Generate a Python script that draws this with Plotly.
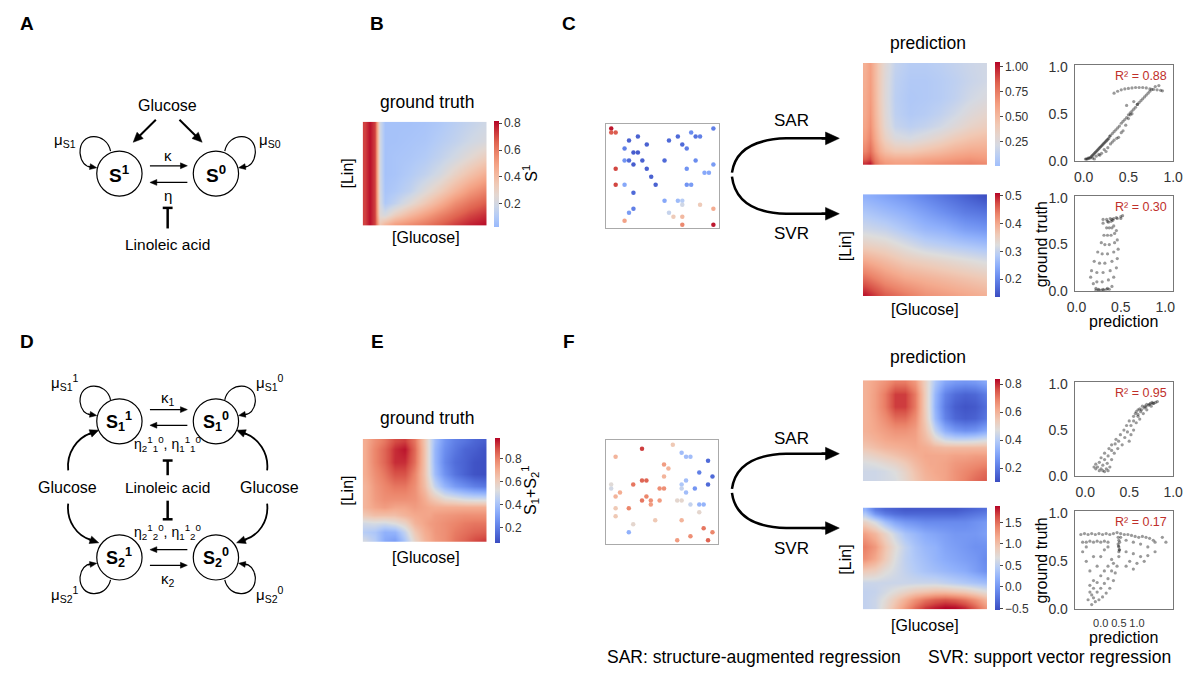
import math
import plotly.graph_objects as go

# page is 1202x690; default body margin is 8px, so the figure itself is 1186x674
PW, PH = 1202, 690
OX, OY = 8, 8
FW, FH = PW - 2 * OX, PH - 2 * OY
FONT = "Liberation Sans, Arial, Helvetica, sans-serif"

# ------------------------------------------------------------------ data
# heatmap grids: glucose index (columns) and Lin index (rows, top -> bottom)
B_glc = [0, 1, 2, 3, 4, 6, 9, 12, 15, 18, 21, 24]
B_lin = [0, 4, 8, 12, 16, 19, 22, 24]
B_S1 = [
    [0.72, 0.80, 0.72, 0.20, 0.07, 0.07, 0.07, 0.08, 0.10, 0.13, 0.16, 0.19],
    [0.72, 0.80, 0.72, 0.20, 0.07, 0.07, 0.08, 0.09, 0.12, 0.15, 0.19, 0.22],
    [0.72, 0.80, 0.72, 0.20, 0.07, 0.08, 0.09, 0.11, 0.15, 0.20, 0.26, 0.32],
    [0.72, 0.80, 0.72, 0.20, 0.07, 0.08, 0.11, 0.15, 0.21, 0.30, 0.38, 0.45],
    [0.72, 0.80, 0.72, 0.21, 0.08, 0.10, 0.15, 0.24, 0.33, 0.43, 0.52, 0.58],
    [0.72, 0.80, 0.72, 0.22, 0.10, 0.15, 0.25, 0.35, 0.45, 0.55, 0.62, 0.67],
    [0.72, 0.80, 0.72, 0.25, 0.22, 0.32, 0.42, 0.50, 0.58, 0.65, 0.71, 0.75],
    [0.72, 0.80, 0.72, 0.35, 0.42, 0.50, 0.55, 0.60, 0.66, 0.72, 0.77, 0.80],
]

CSAR_glc = [0, 1, 2, 3, 4, 6, 9, 12, 15, 18, 21, 24]
CSAR_lin = [0, 4, 8, 12, 15, 18, 21, 23, 24]
CSAR_pred = [
    [0.55, 0.62, 0.50, 0.38, 0.28, 0.15, 0.10, 0.10, 0.12, 0.15, 0.18, 0.20],
    [0.56, 0.63, 0.50, 0.38, 0.27, 0.13, 0.08, 0.08, 0.10, 0.13, 0.17, 0.20],
    [0.57, 0.64, 0.51, 0.38, 0.27, 0.12, 0.07, 0.08, 0.10, 0.14, 0.20, 0.24],
    [0.58, 0.66, 0.52, 0.40, 0.28, 0.13, 0.08, 0.10, 0.14, 0.20, 0.27, 0.32],
    [0.60, 0.68, 0.54, 0.42, 0.30, 0.16, 0.12, 0.15, 0.20, 0.27, 0.34, 0.38],
    [0.64, 0.72, 0.58, 0.46, 0.36, 0.25, 0.22, 0.27, 0.33, 0.40, 0.45, 0.48],
    [0.72, 0.80, 0.66, 0.55, 0.48, 0.42, 0.42, 0.46, 0.50, 0.55, 0.58, 0.58],
    [0.85, 0.90, 0.75, 0.65, 0.60, 0.57, 0.57, 0.60, 0.62, 0.65, 0.67, 0.65],
    [0.95, 1.00, 0.80, 0.70, 0.65, 0.62, 0.62, 0.65, 0.68, 0.70, 0.72, 0.70],
]

CSVR_glc = [0, 4, 8, 12, 16, 20, 24]
CSVR_lin = [0, 4, 8, 12, 16, 20, 24]
CSVR_pred = [
    [0.25, 0.235, 0.22, 0.20, 0.18, 0.16, 0.14],
    [0.28, 0.265, 0.25, 0.23, 0.21, 0.19, 0.18],
    [0.31, 0.30, 0.28, 0.26, 0.25, 0.23, 0.22],
    [0.35, 0.34, 0.32, 0.30, 0.29, 0.28, 0.27],
    [0.40, 0.38, 0.36, 0.35, 0.34, 0.33, 0.32],
    [0.45, 0.42, 0.40, 0.39, 0.38, 0.37, 0.36],
    [0.50, 0.46, 0.44, 0.42, 0.41, 0.40, 0.39],
]

E_glc = [0, 2, 4, 6, 8, 10, 12, 13, 14, 16, 18, 20, 22, 24]
E_lin = [0, 2, 5, 8, 11, 14, 16, 18, 20, 22, 24]
E_S = [
    [0.70, 0.77, 0.82, 0.89, 0.91, 0.82, 0.62, 0.50, 0.39, 0.27, 0.21, 0.18, 0.14, 0.12],
    [0.70, 0.79, 0.85, 0.93, 0.96, 0.84, 0.63, 0.50, 0.37, 0.25, 0.19, 0.14, 0.12, 0.09],
    [0.70, 0.79, 0.85, 0.93, 0.93, 0.83, 0.63, 0.50, 0.37, 0.23, 0.16, 0.13, 0.09, 0.08],
    [0.70, 0.77, 0.82, 0.88, 0.88, 0.79, 0.63, 0.51, 0.39, 0.26, 0.18, 0.13, 0.09, 0.08],
    [0.68, 0.75, 0.79, 0.82, 0.82, 0.77, 0.65, 0.56, 0.47, 0.36, 0.29, 0.25, 0.21, 0.19],
    [0.68, 0.74, 0.77, 0.77, 0.77, 0.76, 0.70, 0.65, 0.62, 0.56, 0.54, 0.51, 0.50, 0.50],
    [0.68, 0.72, 0.74, 0.72, 0.72, 0.74, 0.72, 0.71, 0.70, 0.70, 0.70, 0.70, 0.70, 0.70],
    [0.62, 0.65, 0.65, 0.65, 0.68, 0.71, 0.72, 0.72, 0.74, 0.75, 0.76, 0.77, 0.77, 0.77],
    [0.50, 0.51, 0.50, 0.53, 0.58, 0.68, 0.72, 0.74, 0.75, 0.77, 0.79, 0.81, 0.82, 0.82],
    [0.44, 0.42, 0.35, 0.36, 0.47, 0.62, 0.70, 0.72, 0.75, 0.77, 0.81, 0.83, 0.85, 0.86],
    [0.50, 0.44, 0.33, 0.30, 0.42, 0.58, 0.68, 0.71, 0.74, 0.77, 0.82, 0.85, 0.89, 0.91],
]

FSAR_glc = [0, 2, 4, 6, 8, 10, 12, 13, 14, 16, 18, 20, 22, 24]
FSAR_lin = [0, 3, 6, 9, 12, 14, 16, 18, 20, 22, 24]
FSAR_pred = [
    [0.60, 0.63, 0.66, 0.70, 0.70, 0.65, 0.52, 0.45, 0.38, 0.30, 0.27, 0.26, 0.27, 0.30],
    [0.60, 0.64, 0.70, 0.78, 0.78, 0.70, 0.53, 0.44, 0.34, 0.22, 0.17, 0.15, 0.16, 0.20],
    [0.60, 0.64, 0.70, 0.78, 0.78, 0.70, 0.53, 0.44, 0.33, 0.20, 0.14, 0.12, 0.13, 0.17],
    [0.60, 0.63, 0.67, 0.72, 0.72, 0.67, 0.54, 0.45, 0.35, 0.22, 0.16, 0.14, 0.15, 0.19],
    [0.60, 0.62, 0.64, 0.66, 0.66, 0.64, 0.56, 0.50, 0.42, 0.32, 0.27, 0.25, 0.26, 0.30],
    [0.58, 0.60, 0.62, 0.63, 0.63, 0.63, 0.58, 0.55, 0.50, 0.44, 0.42, 0.42, 0.43, 0.45],
    [0.55, 0.57, 0.59, 0.60, 0.61, 0.62, 0.61, 0.60, 0.59, 0.58, 0.58, 0.58, 0.58, 0.58],
    [0.50, 0.52, 0.54, 0.56, 0.58, 0.60, 0.62, 0.62, 0.62, 0.62, 0.63, 0.63, 0.64, 0.64],
    [0.46, 0.47, 0.49, 0.51, 0.54, 0.58, 0.61, 0.62, 0.62, 0.63, 0.65, 0.66, 0.67, 0.68],
    [0.44, 0.44, 0.45, 0.47, 0.51, 0.56, 0.60, 0.61, 0.62, 0.63, 0.66, 0.68, 0.70, 0.72],
    [0.44, 0.44, 0.45, 0.46, 0.50, 0.55, 0.59, 0.60, 0.61, 0.63, 0.66, 0.69, 0.72, 0.74],
]

FSVR_glc = [0, 2, 4, 6, 8, 10, 12, 14, 16, 18, 20, 22, 24]
FSVR_lin = [0, 1, 3, 6, 9, 12, 15, 18, 20, 22, 24]
FSVR_pred = [
    [0.20, -0.20, -0.35, -0.40, -0.45, -0.45, -0.45, -0.45, -0.45, -0.45, -0.40, -0.35, -0.30],
    [0.40, 0.00, -0.20, -0.30, -0.35, -0.35, -0.35, -0.35, -0.35, -0.35, -0.30, -0.25, -0.20],
    [0.80, 0.60, 0.30, 0.10, 0.00, -0.05, -0.10, -0.10, -0.10, -0.10, -0.10, -0.05, 0.00],
    [1.20, 1.05, 0.80, 0.55, 0.35, 0.25, 0.15, 0.10, 0.05, 0.00, 0.00, 0.00, 0.05],
    [1.40, 1.25, 0.95, 0.70, 0.50, 0.35, 0.25, 0.20, 0.10, 0.05, 0.00, -0.05, -0.05],
    [1.30, 1.15, 0.90, 0.65, 0.48, 0.38, 0.30, 0.22, 0.15, 0.10, 0.05, 0.00, -0.10],
    [0.90, 0.85, 0.70, 0.60, 0.50, 0.42, 0.35, 0.30, 0.25, 0.20, 0.15, 0.05, -0.05],
    [0.55, 0.55, 0.55, 0.55, 0.55, 0.55, 0.55, 0.55, 0.50, 0.45, 0.40, 0.35, 0.30],
    [0.50, 0.52, 0.60, 0.70, 0.80, 0.90, 0.95, 1.00, 1.00, 0.95, 0.90, 0.80, 0.70],
    [0.50, 0.55, 0.70, 0.90, 1.10, 1.30, 1.45, 1.55, 1.60, 1.55, 1.45, 1.30, 1.10],
    [0.50, 0.55, 0.75, 1.00, 1.25, 1.50, 1.70, 1.80, 1.87, 1.85, 1.75, 1.55, 1.30],
]

# training samples: (glucose index, Lin index, value)
C_samples = [
    (1, 1, 0.80), (1, 2, 0.72), (2, 2, 0.72), (5, 4, 0.08), (7, 3, 0.08), (9, 5, 0.08),
    (4, 6, 0.15), (6, 7, 0.07), (7, 7, 0.07), (4, 9, 0.20), (5, 9, 0.10), (6, 10, 0.07),
    (8, 9, 0.08), (2, 11, 0.75), (9, 11, 0.08), (10, 13, 0.08), (11, 15, 0.08), (2, 15, 0.75),
    (4, 15, 0.25), (6, 17, 0.10), (6, 21, 0.15), (5, 22, 0.22), (4, 24, 0.60), (14, 4, 0.10),
    (16, 3, 0.10), (17, 5, 0.10), (18, 6, 0.15), (19, 2, 0.18), (20, 3, 0.12), (21, 3, 0.15),
    (24, 1, 0.15), (13, 9, 0.10), (20, 9, 0.18), (18, 11, 0.20), (24, 10, 0.22), (22, 12, 0.25),
    (23, 12, 0.25), (18, 15, 0.20), (19, 15, 0.22), (13, 19, 0.25), (16, 19, 0.30), (17, 19, 0.35),
    (17, 20, 0.40), (14, 22, 0.38), (15, 23, 0.50), (17, 23, 0.55), (21, 20, 0.50), (24, 21, 0.58),
    (17, 25, 0.65), (24, 25, 0.80),
]
F_samples = [
    (15, 1, 0.62), (8, 2, 0.91), (2, 4, 0.68), (17, 3, 0.39), (18, 4, 0.39), (19, 4, 0.39),
    (23, 5, 0.15), (13, 6, 0.74), (14, 7, 0.68), (21, 8, 0.21), (24, 9, 0.15), (13, 9, 0.68),
    (8, 10, 0.85), (9, 10, 0.85), (18, 10, 0.39), (6, 11, 0.82), (17, 11, 0.42), (23, 11, 0.15),
    (1, 11, 0.54), (1, 12, 0.50), (12, 12, 0.77), (13, 12, 0.77), (17, 12, 0.47), (20, 12, 0.27),
    (3, 13, 0.70), (18, 13, 0.39), (2, 14, 0.68), (9, 14, 0.79), (8, 15, 0.82), (10, 15, 0.77),
    (12, 15, 0.74), (16, 15, 0.56), (17, 15, 0.56), (10, 16, 0.74), (19, 16, 0.47), (21, 16, 0.36),
    (22, 16, 0.36), (2, 17, 0.62), (5, 17, 0.79), (21, 18, 0.56), (2, 19, 0.62), (11, 20, 0.62),
    (17, 20, 0.68), (6, 21, 0.56), (22, 22, 0.82), (5, 23, 0.35), (24, 23, 0.79), (19, 24, 0.77),
    (16, 25, 0.74), (23, 25, 0.85),
]

# prediction vs ground truth: (prediction, ground truth)
C_SAR_pts = [
    (0.02, 0.02), (0.03, 0.02), (0.04, 0.02), (0.05, 0.03), (0.06, 0.03), (0.07, 0.03), (0.08, 0.04),
    (0.09, 0.05), (0.10, 0.06), (0.11, 0.07), (0.12, 0.08), (0.13, 0.09), (0.14, 0.10), (0.15, 0.11),
    (0.16, 0.12), (0.17, 0.13), (0.18, 0.14), (0.19, 0.15), (0.20, 0.16), (0.21, 0.17), (0.22, 0.18),
    (0.23, 0.19), (0.24, 0.20), (0.25, 0.21), (0.26, 0.22), (0.27, 0.23), (0.28, 0.24), (0.29, 0.26),
    (0.30, 0.27), (0.32, 0.29), (0.34, 0.31), (0.36, 0.33), (0.38, 0.35), (0.40, 0.37), (0.42, 0.40),
    (0.44, 0.42), (0.46, 0.44), (0.48, 0.46), (0.50, 0.49), (0.52, 0.51), (0.54, 0.53), (0.56, 0.55),
    (0.58, 0.57), (0.60, 0.60), (0.62, 0.62), (0.64, 0.64), (0.66, 0.66), (0.68, 0.68), (0.70, 0.70),
    (0.72, 0.72), (0.74, 0.74), (0.76, 0.76),
    (0.34, 0.72), (0.38, 0.74), (0.42, 0.755), (0.46, 0.765), (0.50, 0.77), (0.54, 0.775), (0.58, 0.78),
    (0.62, 0.78), (0.66, 0.78), (0.70, 0.775), (0.74, 0.765), (0.78, 0.76), (0.82, 0.755), (0.86, 0.75),
    (0.88, 0.745), (0.80, 0.79), (0.84, 0.80),
    (0.10, 0.03), (0.14, 0.05), (0.17, 0.07), (0.20, 0.08), (0.23, 0.12), (0.27, 0.14), (0.30, 0.18),
    (0.34, 0.22), (0.37, 0.24), (0.39, 0.25), (0.42, 0.30), (0.44, 0.32), (0.47, 0.38), (0.50, 0.45),
    (0.52, 0.49), (0.54, 0.50), (0.48, 0.59), (0.56, 0.63), (0.60, 0.60), (0.12, 0.02), (0.18, 0.06),
    (0.25, 0.10), (0.32, 0.20),
]
C_SVR_pts = [
    (0.22, 0.03), (0.19, 0.08), (0.16, 0.15), (0.17, 0.22), (0.20, 0.32), (0.24, 0.42), (0.28, 0.52),
    (0.31, 0.60), (0.34, 0.68), (0.36, 0.74),
    (0.25, 0.02), (0.23, 0.10), (0.23, 0.20), (0.26, 0.30), (0.29, 0.40), (0.32, 0.50), (0.35, 0.60),
    (0.37, 0.68), (0.39, 0.75),
    (0.30, 0.02), (0.29, 0.10), (0.30, 0.20), (0.32, 0.30), (0.35, 0.40), (0.37, 0.50), (0.39, 0.60),
    (0.40, 0.68), (0.41, 0.76),
    (0.35, 0.03), (0.36, 0.12), (0.38, 0.22), (0.40, 0.32), (0.42, 0.42), (0.43, 0.52), (0.43, 0.62),
    (0.42, 0.70),
    (0.40, 0.05), (0.42, 0.15), (0.45, 0.25), (0.46, 0.35), (0.47, 0.45), (0.46, 0.55), (0.45, 0.65),
    (0.22, 0.01), (0.25, 0.01), (0.28, 0.01), (0.31, 0.01), (0.34, 0.02), (0.37, 0.02),
    (0.30, 0.77), (0.34, 0.77), (0.38, 0.78), (0.42, 0.78), (0.46, 0.78), (0.50, 0.78),
    (0.30, 0.73), (0.35, 0.75), (0.40, 0.77), (0.45, 0.79), (0.50, 0.80), (0.52, 0.81),
]
F_SAR_pts = [
    (0.10, 0.10), (0.12, 0.08), (0.14, 0.10), (0.12, 0.13), (0.16, 0.06), (0.18, 0.08), (0.20, 0.06),
    (0.22, 0.05), (0.16, 0.15), (0.20, 0.12), (0.24, 0.08), (0.26, 0.06), (0.18, 0.20), (0.22, 0.18),
    (0.25, 0.14), (0.28, 0.10), (0.22, 0.25), (0.26, 0.22), (0.30, 0.18), (0.27, 0.30), (0.30, 0.28),
    (0.33, 0.25), (0.30, 0.34), (0.34, 0.35), (0.37, 0.30), (0.35, 0.40), (0.38, 0.38), (0.42, 0.34),
    (0.40, 0.45), (0.45, 0.42), (0.50, 0.38), (0.44, 0.50), (0.48, 0.48), (0.52, 0.45), (0.47, 0.55),
    (0.52, 0.55), (0.55, 0.50), (0.50, 0.60), (0.55, 0.60), (0.58, 0.58), (0.55, 0.65), (0.60, 0.65),
    (0.62, 0.62), (0.58, 0.70), (0.63, 0.70), (0.66, 0.68), (0.62, 0.73), (0.67, 0.74), (0.70, 0.72),
    (0.68, 0.76), (0.72, 0.77), (0.75, 0.76), (0.74, 0.79), (0.78, 0.79), (0.80, 0.80), (0.82, 0.81),
    (0.57, 0.68), (0.60, 0.72), (0.65, 0.76), (0.70, 0.78), (0.76, 0.80), (0.64, 0.72), (0.69, 0.75),
    (0.73, 0.78), (0.77, 0.79), (0.60, 0.67),
]
F_SVR_pts = [
    (-0.55, 0.78), (-0.45, 0.79), (-0.35, 0.78), (-0.25, 0.79), (-0.15, 0.78), (-0.05, 0.79), (0.05, 0.78),
    (0.15, 0.79), (0.25, 0.78), (0.35, 0.79), (0.45, 0.80), (0.55, 0.79), (0.65, 0.78), (0.75, 0.78),
    (0.85, 0.77), (0.95, 0.76), (1.05, 0.75), (1.15, 0.76), (1.25, 0.75), (1.35, 0.74), (1.45, 0.72),
    (-0.50, 0.70), (-0.40, 0.70), (-0.30, 0.71), (-0.20, 0.70), (-0.10, 0.71), (0.00, 0.70), (0.10, 0.71),
    (0.20, 0.70),
    (0.50, 0.55), (0.50, 0.60), (0.52, 0.62), (0.50, 0.65), (0.48, 0.68), (0.52, 0.70), (0.50, 0.72),
    (0.48, 0.75), (0.55, 0.75), (0.51, 0.62), (0.49, 0.66),
    (0.70, 0.72), (0.90, 0.70), (1.10, 0.68), (1.30, 0.65), (1.50, 0.70), (1.70, 0.75), (1.80, 0.70),
    (0.70, 0.60), (0.90, 0.58), (1.10, 0.55), (1.30, 0.56), (1.50, 0.60), (0.80, 0.50), (1.00, 0.48),
    (1.20, 0.50), (0.70, 0.45), (0.90, 0.42),
    (-0.50, 0.60), (-0.40, 0.50), (-0.30, 0.40), (-0.40, 0.65), (-0.20, 0.55), (-0.30, 0.25), (-0.20, 0.30),
    (-0.10, 0.45), (0.00, 0.55), (0.10, 0.62), (0.20, 0.65), (-0.35, 0.10), (-0.25, 0.15),
    (-0.25, 0.05), (-0.15, 0.08), (-0.05, 0.10), (0.05, 0.13), (0.15, 0.17), (0.25, 0.22), (0.35, 0.30),
    (0.40, 0.38), (0.45, 0.45), (-0.20, 0.12), (-0.10, 0.18), (0.00, 0.22), (0.10, 0.27), (0.20, 0.32),
    (0.30, 0.40), (0.35, 0.48), (-0.30, 0.18), (-0.20, 0.22), (-0.10, 0.28), (0.00, 0.35), (0.10, 0.40),
    (0.20, 0.45), (0.30, 0.52),
]
R2_labels = ["R² = 0.88", "R² = 0.30", "R² = 0.95", "R² = 0.17"]

# ------------------------------------------------------------------ helpers
def X(px):
    return (px - OX) / FW


def Y(py):
    return 1 - (py - OY) / FH


CW = [(0.0, (59, 76, 192)), (0.125, (88, 118, 226)), (0.25, (123, 159, 249)),
      (0.375, (170, 199, 253)), (0.5, (221, 221, 221)), (0.625, (244, 197, 173)),
      (0.75, (244, 154, 123)), (0.875, (222, 96, 77)), (1.0, (180, 4, 38))]


def cw(f):
    for (a, ca), (b, cb) in zip(CW[:-1], CW[1:]):
        if f <= b:
            t = (f - a) / (b - a)
            c = [round(ca[i] + t * (cb[i] - ca[i])) for i in range(3)]
            return f"rgb({c[0]},{c[1]},{c[2]})"
    return "rgb(180,4,38)"


def cscale(f0, f1):
    return [[k / 10, cw(f0 + k / 10 * (f1 - f0))] for k in range(11)]


shapes = []
annots = []


def P(s):
    toks = s.split()
    out, i = [], 0
    while i < len(toks):
        t = toks[i]
        if t[0].isalpha():
            out.append(t)
            i += 1
        else:
            out.append(f"{X(float(t)):.5f},{Y(float(toks[i + 1])):.5f}")
            i += 2
    return " ".join(out)


def path(s, w=1.2, fill=None):
    d = dict(type="path", path=P(s), xref="paper", yref="paper",
             line=dict(color="black", width=w))
    if fill:
        d["fillcolor"] = fill
    shapes.append(d)


def line(x0, y0, x1, y1, w=1.2):
    shapes.append(dict(type="line", xref="paper", yref="paper", x0=X(x0), y0=Y(y0),
                       x1=X(x1), y1=Y(y1), line=dict(color="black", width=w)))


def circle(cx, cy, r):
    shapes.append(dict(type="circle", xref="paper", yref="paper", x0=X(cx - r), x1=X(cx + r),
                       y0=Y(cy + r), y1=Y(cy - r), line=dict(color="black", width=1.2)))


def arrow(hx, hy, tx, ty, w=1.2, hl=7.0, hw=6.0):
    """straight shaft from tail to head plus a filled triangular head (pixel units)"""
    dx, dy = hx - tx, hy - ty
    L = math.hypot(dx, dy)
    ux, uy = dx / L, dy / L
    bx, by = hx - ux * hl, hy - uy * hl
    if L > hl:
        line(tx, ty, bx + ux * 1.0, by + uy * 1.0, w)
    px, py = -uy * hw / 2, ux * hw / 2
    path(f"M {hx} {hy} L {bx + px} {by + py} L {bx - px} {by - py} Z", 0.5, "black")


def text(x, y, s, size=15, color="black", angle=0, xanchor="center"):
    annots.append(dict(x=X(x), y=Y(y), xref="paper", yref="paper", text=s, showarrow=False,
                       font=dict(size=size, color=color, family=FONT), textangle=angle,
                       xanchor=xanchor, yanchor="middle"))


# ------------------------------------------------------------------ figure
fig = go.Figure()
layout = {}

boxes = {
    1: (360, 486, 118, 224),   # B heatmap
    2: (360, 486, 442, 547),   # E heatmap
    3: (607, 722, 120, 227),   # C samples
    4: (607, 721, 443, 549),   # F samples
    5: (868, 994, 58, 162),    # C SAR
    6: (868, 994, 192, 296),   # C SVR
    7: (868, 994, 382, 485),   # F SAR
    8: (868, 994, 512, 616),   # F SVR
    9: (1083, 1183, 60, 158),  # C SAR scatter
    10: (1083, 1183, 194, 291),
    11: (1083, 1183, 384, 480),
    12: (1083, 1183, 516, 616),
}


def ax_names(n):
    return ("x" if n == 1 else f"x{n}"), ("y" if n == 1 else f"y{n}")


def lay_names(n):
    return ("xaxis" if n == 1 else f"xaxis{n}"), ("yaxis" if n == 1 else f"yaxis{n}")


hidden = dict(showticklabels=False, showgrid=False, zeroline=False, ticks="", showline=False)
for n, (x0, x1, y0, y1) in boxes.items():
    xa, ya = ax_names(n)
    lx, ly = lay_names(n)
    layout[lx] = dict(domain=[X(x0), X(x1)], anchor=ya, **hidden)
    layout[ly] = dict(domain=[Y(y1), Y(y0)], anchor=xa, **hidden)
    if n <= 8 and n not in (3, 4):
        layout[lx]["range"] = [-0.5, 24.5]
        layout[ly]["range"] = [24.5, -0.5]


def cbar(xpx, y0, y1, dtick, fmt):
    return dict(x=X(xpx), xanchor="left", xpad=0, ypad=0, y=Y((y0 + y1) / 2), yanchor="middle",
                len=y1 - y0, lenmode="pixels", thickness=5, thicknessmode="pixels",
                outlinewidth=0, ticks="outside", ticklen=3, tickwidth=1, tickcolor="#444",
                tickfont=dict(size=12, color="#333", family=FONT), dtick=dtick, tick0=0,
                tickformat=fmt)


heat_specs = [
    (1, B_glc, B_lin, B_S1, 0.03, 0.82, 0.33, 1.0, cbar(493, 118, 224, 0.2, ".1f")),
    (2, E_glc, E_lin, E_S, 0.07, 0.98, 0.0, 1.0, cbar(494, 442, 547, 0.2, ".1f")),
    (5, CSAR_glc, CSAR_lin, CSAR_pred, 0.01, 1.05, 0.35, 1.0, cbar(1002, 58, 162, 0.25, ".2f")),
    (6, CSVR_glc, CSVR_lin, CSVR_pred, 0.135, 0.51, 0.0, 1.0, cbar(1002, 192, 296, 0.1, ".1f")),
    (7, FSAR_glc, FSAR_lin, FSAR_pred, 0.10, 0.836, 0.0, 1.0, cbar(1002, 382, 485, 0.2, ".1f")),
    (8, FSVR_glc, FSVR_lin, FSVR_pred, -0.55, 1.87, 0.0, 1.0, cbar(1002, 512, 616, 0.5, ".1f")),
]
for n, gx, gy, z, zmin, zmax, f0, f1, cb in heat_specs:
    xa, ya = ax_names(n)
    fig.add_trace(go.Heatmap(x=gx, y=gy, z=z, zmin=zmin, zmax=zmax, colorscale=cscale(f0, f1),
                             zsmooth="best", colorbar=cb, xaxis=xa, yaxis=ya, hoverinfo="skip"))

# training sample scatters
for n, samples, zmin, zmax, f0 in [(3, C_samples, 0.03, 0.82, 0.0), (4, F_samples, 0.07, 0.98, 0.0)]:
    xa, ya = ax_names(n)
    lx, ly = lay_names(n)
    fig.add_trace(go.Scatter(x=[s[0] for s in samples], y=[s[1] for s in samples], mode="markers",
                             marker=dict(size=4.5, color=[s[2] for s in samples], cmin=zmin,
                                         cmax=zmax, colorscale=cscale(f0, 1.0), showscale=False),
                             xaxis=xa, yaxis=ya, hoverinfo="skip"))
    layout[lx].update(range=[-0.2, 25.3], showline=True, mirror=True, linecolor="#aaaaaa",
                      linewidth=1)
    layout[ly].update(range=[25.9, -0.2], showline=True, mirror=True, linecolor="#aaaaaa",
                      linewidth=1)

# prediction vs ground truth
sc_specs = [
    (9, C_SAR_pts, [-0.1, 1.0], 14),
    (10, C_SVR_pts, [-0.02, 1.09], 14),
    (11, F_SAR_pts, [-0.12, 1.0], 14),
    (12, F_SVR_pts, [-0.72, 2.0], 11),
]
tickstyle = dict(showticklabels=True, tickvals=[0, 0.5, 1.0], ticktext=["0.0", "0.5", "1.0"],
                 ticks="outside", ticklen=3, tickcolor="rgba(0,0,0,0)", tickangle=0,
                 showline=True, mirror=True, linecolor="#777", linewidth=1)
for (n, pts, xr, xfs), lab in zip(sc_specs, R2_labels):
    xa, ya = ax_names(n)
    lx, ly = lay_names(n)
    fig.add_trace(go.Scatter(x=[p[0] for p in pts], y=[p[1] for p in pts], mode="markers",
                             marker=dict(size=3.2, color="rgba(15,15,15,0.42)"),
                             xaxis=xa, yaxis=ya, hoverinfo="skip"))
    layout[lx].update(range=xr, tickfont=dict(size=xfs, color="#333", family=FONT), **tickstyle)
    layout[ly].update(range=[0, 1.02], tickfont=dict(size=14, color="#333", family=FONT),
                      **tickstyle)
    x0, x1, y0, y1 = boxes[n]
    text(x1 - 4, y0 + 11, lab, size=12.5, color="#c0302b", xanchor="right")

# ------------------------------------------------------------------ texts
for lbl, x, y in [("A", 19, 18), ("B", 375, 18), ("C", 570, 18),
                  ("D", 19, 342), ("E", 375, 342), ("F", 570, 342)]:
    text(x, y, f"<b>{lbl}</b>", size=19)

text(425, 98, "ground truth", 17.5)
text(425, 421, "ground truth", 17.5)
text(934, 38, "prediction", 17.5)
text(934, 358, "prediction", 17.5)
text(424, 236, "[Glucose]", 16)
text(424, 563, "[Glucose]", 16)
text(931, 310, "[Glucose]", 16)
text(931, 632, "[Glucose]", 16)
text(345, 171, "[Lin]", 16, angle=-90)
text(345, 495, "[Lin]", 16, angle=-90)
text(850, 245, "[Lin]", 16, angle=-90)
text(850, 565, "[Lin]", 16, angle=-90)
text(530, 171, "S<sup>1</sup>", 16, angle=-90)
text(530, 495, "S<sub>1</sub>+S<sub>2</sub><sup>1</sup>", 16, angle=-90)
for y in (243, 566):
    text(1049, y, "ground truth", 16, angle=-90)
for y in (322, 645):
    text(1133, y, "prediction", 16)
text(795, 117, "SAR", 17)
text(795, 232, "SVR", 17)
text(795, 441, "SAR", 17)
text(795, 554, "SVR", 17)
text(757, 665, "SAR: structure-augmented regression", 17.5)
text(1057, 665, "SVR: support vector regression", 17.5)

# SAR / SVR branching arrows
for yf, yu, yl in [(172, 135, 212), (495, 457, 533)]:
    path(f"M 735 {yf - 2} C 738 {yu + 14} 755 {yu + 1} 790 {yu} L 832 {yu}", 2.5)
    path(f"M 735 {yf + 2} C 738 {yl - 14} 755 {yl - 1} 790 {yl} L 832 {yl}", 2.5)
    arrow(844, yu, 826, yu, 2.5, 14, 13)
    arrow(844, yl, 826, yl, 2.5, 14, 13)

# ------------------------------------------------------------------ diagram A
circle(113, 171, 23)
circle(211, 171, 23)
text(113, 171, "<b>S<sup>1</sup></b>", 19)
text(211, 171, "<b>S<sup>0</sup></b>", 19)
text(162, 101, "Glucose", 16)
text(162, 152, "κ", 15)
text(162, 193, "η", 15)
text(162, 243, "Linoleic acid", 15.5)
text(58, 137, "μ<sub>S1</sub>", 15)
text(266, 137, "μ<sub>S0</sub>", 15)
arrow(182, 163, 144, 163)
arrow(144, 180, 182, 180)
arrow(127, 139, 150, 116, 2, 10, 9)
arrow(197, 139, 174, 116, 2, 10, 9)
line(162, 206, 162, 227, 2.5)
line(157, 206, 167, 206, 2.5)
path("M 104 148 C 100 128 72 128 73 150 C 74 160 79 164 85 165")
arrow(90, 165, 81, 163.5, 1.2, 7, 6)
path("M 220 148 C 224 128 252 128 251 150 C 250 160 245 164 239 165")
arrow(234, 165, 243, 163.5, 1.2, 7, 6)

# ------------------------------------------------------------------ diagram D
for cx, cy, lab in [(113, 424, "S<sub>1</sub><sup>1</sup>"), (211, 424, "S<sub>1</sub><sup>0</sup>"),
                    (113, 563, "S<sub>2</sub><sup>1</sup>"), (211, 563, "S<sub>2</sub><sup>0</sup>")]:
    circle(cx, cy, 23)
    text(cx, cy, f"<b>{lab}</b>", 18)
text(162, 401, "κ<sub>1</sub>", 15)
text(162, 586, "κ<sub>2</sub>", 15)
text(162, 447, "η<sub>2</sub><sup>1</sup><sub>1</sub><sup>0</sup>, η<sub>1</sub><sup>1</sup><sub>1</sub><sup>0</sup>", 14)
text(162, 537, "η<sub>2</sub><sup>1</sup><sub>2</sub><sup>0</sup>, η<sub>1</sub><sup>1</sup><sub>2</sub><sup>0</sup>", 14)
text(60, 492, "Glucose", 16)
text(162, 492, "Linoleic acid", 15.5)
text(265, 492, "Glucose", 16)
text(58, 384, "μ<sub>S1</sub><sup>1</sup>", 15)
text(266, 384, "μ<sub>S1</sub><sup>0</sup>", 15)
text(58, 601, "μ<sub>S2</sub><sup>1</sup>", 15)
text(266, 601, "μ<sub>S2</sub><sup>0</sup>", 15)
arrow(182, 412, 144, 412)
arrow(144, 428, 182, 428)
arrow(144, 555, 182, 555)
arrow(182, 571, 144, 571)
line(162, 464, 162, 479, 2.5)
line(157, 464, 167, 464, 2.5)
line(162, 505, 162, 524, 2.5)
line(157, 524, 167, 524, 2.5)
path("M 104 402 C 100 383 72 383 73 404 C 74 413 79 417 85 418")
arrow(90, 418, 81, 416.5, 1.2, 7, 6)
path("M 220 402 C 224 383 252 383 251 404 C 250 413 245 417 239 418")
arrow(234, 418, 243, 416.5, 1.2, 7, 6)
path("M 104 586 C 100 605 72 605 73 583 C 74 574 79 570 85 569")
arrow(90, 569, 81, 570.5, 1.2, 7, 6)
path("M 220 586 C 224 605 252 605 251 583 C 250 574 245 570 239 569")
arrow(234, 569, 243, 570.5, 1.2, 7, 6)
path("M 61 474 C 59 456 70 441 84 436", 1.8)
arrow(92, 433, 82, 437, 1.8, 9, 8)
path("M 61 508 C 59 526 70 541 84 545", 1.8)
arrow(92, 548, 82, 544.5, 1.8, 9, 8)
path("M 263 474 C 265 456 254 441 240 436", 1.8)
arrow(232, 433, 242, 437, 1.8, 9, 8)
path("M 263 508 C 265 526 254 541 240 545", 1.8)
arrow(232, 548, 242, 544.5, 1.8, 9, 8)

fig.update_layout(width=FW, height=FH, autosize=False, margin=dict(l=0, r=0, t=0, b=0, pad=0),
                  paper_bgcolor="white", plot_bgcolor="white", showlegend=False,
                  font=dict(family=FONT, color="black"), shapes=shapes, annotations=annots,
                  **layout)
fig.write_html("out.html", config={"displayModeBar": False})
